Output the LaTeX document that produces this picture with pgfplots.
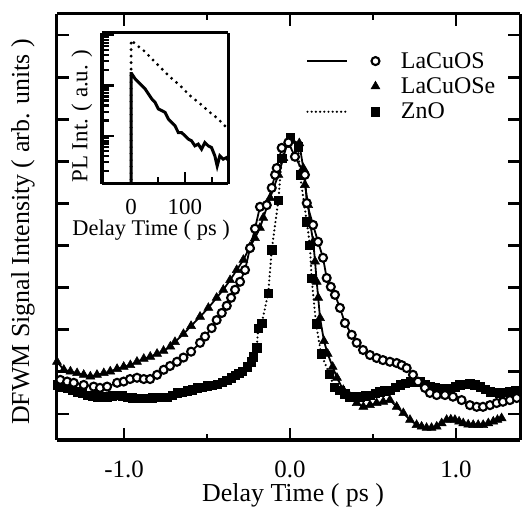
\documentclass[border=0pt]{standalone}
\usepackage{fontspec}
\setmainfont{Liberation Serif}
\usepackage{pgfplots}
\pgfplotsset{compat=1.18}
\pgfplotsset{
  lineandmark/.style={legend image code/.code={
    \draw[##1, mark=none, line width=2.4bp] (0bp,0bp) -- (40bp,0bp);
    \draw[##1] plot coordinates {(68bp,0bp)};}},
  markonly/.style={legend image code/.code={
    \path[draw=none, fill=none] (0bp,0bp) -- (40bp,0bp);
    \draw[##1] plot coordinates {(68bp,0bp)};}},
  thickframe/.style={
    separate axis lines,
    axis line style={line width=#1},
    every outer x axis line/.append style={line width=#1},
    every outer y axis line/.append style={line width=#1},
  },
}
\begin{document}
\begin{tikzpicture}
% ---------------- main DFWM panel ----------------
\begin{axis}[
  at={(0bp,0bp)}, anchor=south west,
  scale only axis, width=463bp, height=426bp,
  xmin=-1.404, xmax=1.386, ymin=0.382, ymax=10.5,
  xtick={-1,0,1}, xticklabels={-1.0,0.0,1.0},
  minor xtick={-0.5,0.5},
  ytick={1,2,3,4,5,6,7,8,9,10}, yticklabels={},
  tick align=inside,
  major tick length=12bp, minor tick length=6bp,
  thickframe=3bp,
  major tick style={line width=2.8bp, black},
  minor tick style={line width=2.8bp, black},
  xticklabel style={anchor=center, inner sep=0pt, yshift=-29bp, font=\fontsize{25}{28}\selectfont},
  xlabel={Delay Time ( ps )},
  ylabel={DFWM Signal Intensity ( arb. units )},
  every axis x label/.style={at={(axis description cs:0.51,-0.130)}, anchor=center, inner sep=0pt, font=\fontsize{26}{28}\selectfont},
  every axis y label/.style={at={(axis description cs:-0.0734,0.488)}, rotate=90, anchor=center, inner sep=0pt, font=\fontsize{26}{28}\selectfont},
  reverse legend,
  legend style={at={(axis description cs:0.538,0.915)}, anchor=north west, draw=none, fill=none,
    inner sep=0pt, font=\fontsize{24}{26}\selectfont, column sep=19bp, row sep=4bp,
    nodes={inner sep=2bp}},
  legend cell align=left,
]
% ZnO : squares, dotted line
\addplot[black, line width=2.4bp, dash pattern=on 0pt off 4.2bp, line cap=round,
  mark=square*, mark size=4.2bp, mark options={solid, fill=black, line width=0.5bp},
  lineandmark]
coordinates {
(-1.404,1.69) (-1.374,1.65) (-1.343,1.62) (-1.313,1.57) (-1.283,1.53) (-1.253,1.49)
(-1.223,1.45) (-1.193,1.43) (-1.163,1.41) (-1.133,1.41) (-1.102,1.41) (-1.072,1.43)
(-1.042,1.45) (-1.012,1.43) (-0.982,1.40) (-0.952,1.39) (-0.922,1.38) (-0.891,1.38)
(-0.861,1.38) (-0.831,1.39) (-0.801,1.40) (-0.771,1.40) (-0.741,1.40) (-0.711,1.45)
(-0.681,1.50) (-0.650,1.52) (-0.620,1.55) (-0.590,1.58) (-0.560,1.62) (-0.530,1.64)
(-0.500,1.67) (-0.470,1.68) (-0.440,1.70) (-0.410,1.75) (-0.380,1.80) (-0.355,1.86)
(-0.331,1.92) (-0.310,1.97) (-0.289,2.02) (-0.259,2.12) (-0.235,2.24) (-0.221,2.36)
(-0.201,2.57) (-0.191,3.04) (-0.170,3.16) (-0.131,3.87) (-0.110,4.90) (-0.070,6.08)
(-0.050,7.08) (0.000,7.56) (0.050,7.35) (0.060,6.68) (0.101,5.57) (0.120,5.01)
(0.130,4.22) (0.157,3.14) (0.187,2.43) (0.237,1.95) (0.267,1.63) (0.301,1.57)
(0.331,1.48) (0.361,1.41) (0.392,1.41) (0.422,1.41) (0.452,1.43) (0.482,1.45)
(0.512,1.49) (0.542,1.53) (0.572,1.55) (0.602,1.57) (0.633,1.63) (0.663,1.69)
(0.693,1.73) (0.723,1.77) (0.753,1.77) (0.783,1.77) (0.813,1.71) (0.843,1.65)
(0.874,1.63) (0.904,1.61) (0.934,1.61) (0.964,1.61) (0.994,1.65) (1.024,1.69)
(1.054,1.71) (1.084,1.73) (1.114,1.69) (1.145,1.65) (1.175,1.59) (1.205,1.53)
(1.235,1.51) (1.265,1.49) (1.295,1.51) (1.325,1.53) (1.356,1.55) (1.386,1.57)
};
\addlegendentry{ZnO}
% LaCuOSe : triangles, solid line
\addplot[black, line width=1.8bp,
  mark=triangle*, mark size=5.2bp, mark options={solid, fill=black, line width=0.5bp},
  markonly]
coordinates {
(-1.404,2.24) (-1.363,2.05) (-1.323,2.01) (-1.283,1.97) (-1.243,1.93) (-1.203,1.89)
(-1.163,1.93) (-1.122,1.97) (-1.083,2.01) (-1.042,2.07) (-1.002,2.12) (-0.962,2.16)
(-0.922,2.24) (-0.881,2.31) (-0.842,2.36) (-0.801,2.43) (-0.762,2.50) (-0.721,2.60)
(-0.693,2.71) (-0.642,2.90) (-0.596,3.09) (-0.542,3.31) (-0.492,3.52) (-0.442,3.76)
(-0.402,3.95) (-0.361,4.18) (-0.321,4.42) (-0.281,4.66) (-0.241,4.97) (-0.211,5.18)
(-0.181,5.42) (-0.161,5.66) (-0.120,6.13) (-0.070,6.68) (-0.040,7.08) (-0.020,7.39)
(0.012,7.49) (0.056,7.43) (0.080,6.84) (0.090,6.44) (0.110,5.96) (0.120,5.56)
(0.140,5.09) (0.151,4.62) (0.161,4.14) (0.170,3.76) (0.181,3.28) (0.205,2.73)
(0.227,2.43) (0.257,2.12) (0.283,1.86) (0.321,1.57) (0.361,1.41) (0.402,1.26)
(0.442,1.17) (0.482,1.21) (0.522,1.26) (0.562,1.29) (0.602,1.33) (0.643,1.17)
(0.683,1.02) (0.723,0.86) (0.763,0.74) (0.793,0.70) (0.823,0.67) (0.853,0.67)
(0.884,0.70) (0.914,0.78) (0.944,0.86) (0.969,0.87) (0.994,0.86) (1.019,0.82)
(1.044,0.78) (1.074,0.75) (1.104,0.74) (1.134,0.74) (1.164,0.74) (1.195,0.78)
(1.225,0.82) (1.250,0.86) (1.275,0.90)
};
\addlegendentry{LaCuOSe}
% LaCuOS : open circles, solid line
\addplot[black, line width=1.8bp,
  mark=*, mark size=4bp, mark options={solid, fill=white, draw=black, line width=2.1bp},
  lineandmark]
coordinates {
(-1.384,1.81) (-1.343,1.77) (-1.303,1.74) (-1.243,1.69) (-1.183,1.65) (-1.145,1.62)
(-1.102,1.65) (-1.042,1.74) (-1.002,1.77) (-0.964,1.83) (-0.922,1.86) (-0.881,1.83)
(-0.843,1.83) (-0.801,1.93) (-0.761,2.05) (-0.723,2.14) (-0.681,2.24) (-0.642,2.34)
(-0.596,2.48) (-0.542,2.69) (-0.512,2.84) (-0.472,3.04) (-0.442,3.23) (-0.411,3.40)
(-0.381,3.57) (-0.355,3.76) (-0.331,3.95) (-0.301,4.14) (-0.271,4.42) (-0.241,4.94)
(-0.211,5.40) (-0.181,5.92) (-0.140,5.96) (-0.110,6.37) (-0.090,6.68) (-0.080,6.84)
(-0.050,7.32) (-0.010,7.45) (0.030,7.11) (0.090,6.68) (0.101,6.01) (0.139,5.49)
(0.169,5.09) (0.199,4.71) (0.221,4.23) (0.246,4.02) (0.271,3.83) (0.301,3.52)
(0.331,3.16) (0.372,2.88) (0.402,2.69) (0.440,2.52) (0.482,2.40) (0.522,2.33)
(0.560,2.28) (0.602,2.24) (0.643,2.21) (0.673,2.16) (0.703,2.09) (0.741,1.93)
(0.771,1.77) (0.813,1.62) (0.843,1.50) (0.884,1.45) (0.934,1.45) (0.982,1.41)
(1.034,1.33) (1.084,1.21) (1.125,1.17) (1.163,1.17) (1.205,1.21) (1.245,1.26)
(1.283,1.29) (1.325,1.33) (1.366,1.38)
};
\addlegendentry{LaCuOS}
\end{axis}
% ---------------- inset: PL decay ----------------
\begin{axis}[
  at={(45bp,256bp)}, anchor=south west,
  scale only axis, width=126bp, height=151bp,
  axis background/.style={fill=white},
  xmin=-54, xmax=180, ymode=log, ymin=1.1e-3, ymax=1.1,
  xtick={0,100}, xticklabels={0,100}, minor xtick={50,150},
  ytick={0.001,0.01,0.1,1}, yticklabels={},
  minor ytick={0.002,0.003,0.004,0.005,0.006,0.007,0.008,0.009,
               0.02,0.03,0.04,0.05,0.06,0.07,0.08,0.09,
               0.2,0.3,0.4,0.5,0.6,0.7,0.8,0.9},
  tick pos=left, tick align=inside,
  major tick length=12bp, minor tick length=7bp,
  thickframe=3bp,
  major tick style={line width=2.2bp, black},
  minor tick style={line width=2.2bp, black},
  xticklabel style={anchor=center, inner sep=0pt, yshift=-23bp, font=\fontsize{23}{26}\selectfont},
  xlabel={Delay Time ( ps )},
  ylabel={PL Int. ( a.u. )},
  every axis x label/.style={at={(axis description cs:0.39,-0.305)}, anchor=center, inner sep=0pt, font=\fontsize{22.5}{26}\selectfont},
  every axis y label/.style={at={(axis description cs:-0.159,0.45)}, rotate=90, anchor=center, inner sep=0pt, font=\fontsize{23}{26}\selectfont},
]
% ZnO
\addplot[black, line width=3.2bp, dash pattern=on 0pt off 6.5bp, line cap=round] coordinates {
(0,0.001) (0,0.79) (10.5,0.63) (22.8,0.50) (35.2,0.368) (53.7,0.232) (72.2,0.147)
(90.7,0.100) (109,0.063) (127.8,0.0437) (146.3,0.0292) (161,0.0219) (174,0.0158) (180,0.0145)
};
% LaCuOS
\addplot[black, line width=3bp] coordinates {
(0,0.001) (0,0.171) (1.2,0.171) (7.4,0.136) (13.6,0.116) (19.8,0.100) (25.9,0.0859)
(32.1,0.0682) (38.3,0.0542) (44.4,0.0463) (50.6,0.0342) (56.8,0.0316) (63,0.0292)
(69.1,0.0216) (75.3,0.0185) (81.5,0.0158) (87.7,0.0116) (93.8,0.0116) (100,0.0100)
(106.2,0.00859) (112.3,0.00794) (118.5,0.00631) (124.7,0.00682) (130.8,0.00542)
(137,0.00735) (143.2,0.00631) (149.4,0.00583) (155.6,0.00398) (159.9,0.00251)
(164.8,0.00398) (171,0.00342) (177.2,0.00368) (180,0.0033)
};
\end{axis}
\pgfresetboundingbox
\path (-57bp,-68bp) rectangle (465bp,440bp);
\end{tikzpicture}
\end{document}
